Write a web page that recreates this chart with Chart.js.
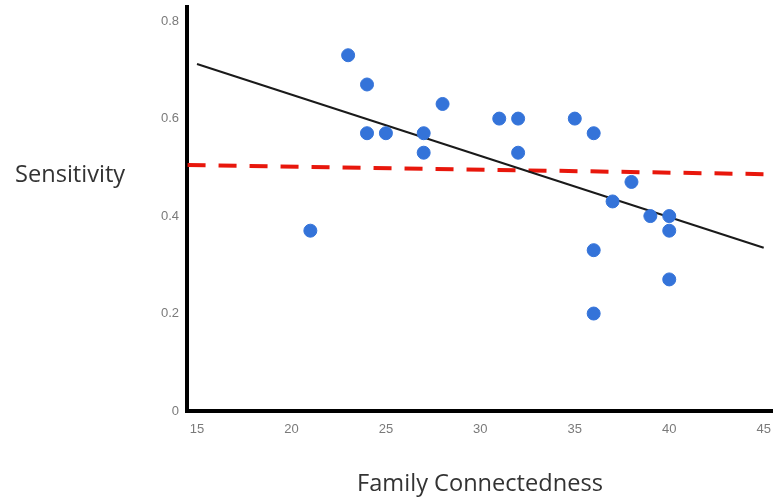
<!DOCTYPE html>
<html>
<head>
<meta charset="utf-8">
<script src="https://cdn.jsdelivr.net/npm/chart.js@4.4.0/dist/chart.umd.min.js"></script>
<style>
  html, body { margin: 0; padding: 0; background: #fff; }
  #wrap { width: 776px; height: 504px; }
</style>
</head>
<body>
<div id="wrap"><canvas id="chart" width="776" height="504"></canvas></div>
<script>
// Family connectedness (x) vs sensitivity (y)
const familyConnectedness = [21, 23, 24, 24, 25, 27, 27, 28, 31, 32, 32, 35, 36, 36, 36, 37, 38, 39, 40, 40, 40];
const sensitivity = [0.37, 0.73, 0.67, 0.57, 0.57, 0.57, 0.53, 0.63, 0.60, 0.60, 0.53, 0.60, 0.57, 0.33, 0.20, 0.43, 0.47, 0.40, 0.40, 0.37, 0.27];

// fitted line and reference (dashed) line end points
const trendX = [15, 45];
const trendY = [0.712, 0.335];
const refX = [14.5, 45];
const refY = [0.505, 0.486];

const xTicks = [15, 20, 25, 30, 35, 40, 45];
const yTicks = [0, 0.2, 0.4, 0.6, 0.8];

const toPoints = (xs, ys) => xs.map((x, i) => ({ x: x, y: ys[i] }));

// titles drawn by hand: the y title is horizontal in the original
const axisTitles = {
    id: 'axisTitles',
    afterDraw(chart) {
        const ctx = chart.ctx;
        ctx.save();
        ctx.fillStyle = '#333333';
        ctx.font = '23.6px "Open Sans"';
        ctx.textBaseline = 'middle';
        ctx.textAlign = 'left';
        ctx.fillText('Sensitivity', 15, 175);
        ctx.textAlign = 'center';
        ctx.fillText('Family Connectedness', 480, 484);
        ctx.restore();
    }
};

new Chart(document.getElementById('chart'), {
    type: 'scatter',
    data: {
        datasets: [
            {
                label: 'Reference',
                data: toPoints(refX, refY),
                showLine: true,
                borderColor: '#e8170c',
                borderWidth: 4,
                borderDash: [18, 13],
                pointRadius: 0,
                order: 3
            },
            {
                label: 'Trend',
                data: toPoints(trendX, trendY),
                showLine: true,
                borderColor: '#1a1a1a',
                borderWidth: 2,
                pointRadius: 0,
                order: 2
            },
            {
                label: 'Sensitivity',
                data: toPoints(familyConnectedness, sensitivity),
                backgroundColor: '#3473d9',
                borderColor: '#3473d9',
                pointRadius: 6.5,
                order: 1
            }
        ]
    },
    options: {
        responsive: false,
        animation: false,
        layout: { autoPadding: false, padding: { top: 7, right: 4, left: 0, bottom: 0 } },
        plugins: {
            legend: { display: false },
            tooltip: { enabled: false }
        },
        scales: {
            x: {
                type: 'linear',
                min: 14.47,
                max: 45.44,
                grid: { display: false, drawTicks: false },
                border: { display: true, color: '#000', width: 4 },
                afterBuildTicks: s => { s.ticks = xTicks.map(v => ({ value: v })); },
                afterFit: s => { s.height = 93; s.paddingLeft = 0; s.paddingRight = 0; },
                ticks: {
                    color: '#7a7a7a',
                    padding: 11,
                    font: { family: 'Liberation Sans', size: 13 }
                }
            },
            y: {
                min: 0,
                max: 0.829,
                grid: { display: false, drawTicks: false },
                border: { display: true, color: '#000', width: 4 },
                afterBuildTicks: s => { s.ticks = yTicks.map(v => ({ value: v })); },
                afterFit: s => { s.width = 187; s.paddingTop = 0; s.paddingBottom = 0; },
                ticks: {
                    color: '#7a7a7a',
                    padding: 8,
                    font: { family: 'Liberation Sans', size: 13 },
                    callback: v => String(Math.round(v * 10) / 10)
                }
            }
        }
    },
    plugins: [axisTitles]
});
</script>
</body>
</html>
